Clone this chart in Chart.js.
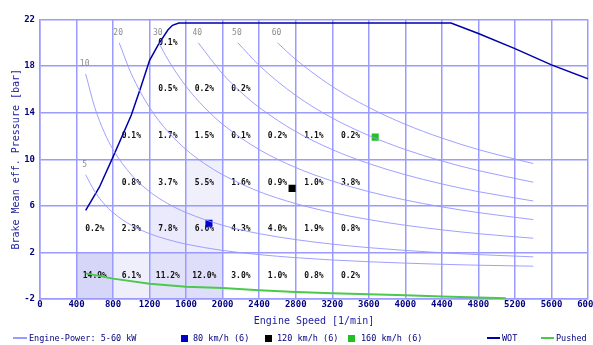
<!DOCTYPE html>
<html>
<head>
<meta charset="utf-8">
<script src="https://cdn.jsdelivr.net/npm/chart.js@4/dist/chart.umd.min.js"></script>
<style>
  html, body { margin: 0; padding: 0; background: #fff; }
  #wrap { position: relative; width: 593px; height: 345px; overflow: hidden; }
  #c { position: absolute; left: 0; top: 0; }
  .lg { position: absolute; top: 333px; font: 8.5px "DejaVu Sans Mono", monospace; color: #000080; white-space: nowrap; line-height: 10px; }
  .sw { position: absolute; }
</style>
</head>
<body>
<div id="wrap">
  <canvas id="c" width="593" height="345"></canvas>
  <div class="sw" style="left:13px;top:337px;width:14px;height:2px;background:#9a9aff"></div>
  <div class="lg" style="left:29px">Engine-Power: 5-60 kW</div>
  <div class="sw" style="left:181px;top:335px;width:7px;height:7px;background:#0000cc"></div>
  <div class="lg" style="left:193px">80 km/h (6)</div>
  <div class="sw" style="left:265px;top:335px;width:7px;height:7px;background:#000"></div>
  <div class="lg" style="left:277px">120 km/h (6)</div>
  <div class="sw" style="left:348px;top:335px;width:7px;height:7px;background:#22c022"></div>
  <div class="lg" style="left:361px">160 km/h (6)</div>
  <div class="sw" style="left:487px;top:337px;width:13px;height:2px;background:#0000a8"></div>
  <div class="lg" style="left:502px">WOT</div>
  <div class="sw" style="left:541px;top:337px;width:13px;height:2px;background:#4cc84c"></div>
  <div class="lg" style="left:556px">Pushed</div>
</div>
<script>
// Residence-time share per operating cell [% of time]
// speed bins: [speedEdges[i], speedEdges[i+1]] rpm; load bins: [loadEdges[j], loadEdges[j+1]] bar
const speedEdges = [400, 800, 1200, 1600, 2000, 2400, 2800, 3200, 3600];
const loadEdges = [-2, 2, 6, 10, 14, 18, 22];
const shareRows = [
  [14.9, 6.1, 11.2, 12.0, 3.0, 1.0, 0.8, 0.2],   // -2 .. 2 bar
  [0.2, 2.3, 7.8, 6.6, 4.3, 4.0, 1.9, 0.8],      //  2 .. 6 bar
  [null, 0.8, 3.7, 5.5, 1.6, 0.9, 1.0, 3.8],     //  6 .. 10 bar
  [null, 0.1, 1.7, 1.5, 0.1, 0.2, 1.1, 0.2],     // 10 .. 14 bar
  [null, null, 0.5, 0.2, 0.2, null, null, null], // 14 .. 18 bar
  [null, null, 0.1, null, null, null, null, null]// 18 .. 22 bar
];

// Constant engine-power lines [rpm, bar]
const powerLevels = [5, 10, 20, 30, 40, 50, 60];
const kw5 = [[500,8.67],[600,7.22],[700,6.19],[800,5.42],[1000,4.33],[1200,3.61],[1400,3.10],[1600,2.71],[2000,2.17],[2400,1.81],[2800,1.55],[3200,1.35],[3600,1.20],[4000,1.08],[4400,0.98],[4800,0.90],[5400,0.82]];
const kw10 = [[500,17.33],[600,14.44],[700,12.38],[800,10.83],[1000,8.67],[1200,7.22],[1400,6.19],[1600,5.42],[2000,4.33],[2400,3.61],[2800,3.10],[3200,2.71],[3600,2.41],[4000,2.17],[4400,1.97],[4800,1.81],[5400,1.62]];
const kw20 = [[867,20.0],[1000,17.33],[1200,14.44],[1400,12.38],[1600,10.83],[1800,9.63],[2000,8.67],[2400,7.22],[2800,6.19],[3200,5.42],[3600,4.82],[4000,4.33],[4400,3.94],[4800,3.61],[5400,3.22]];
const kw30 = [[1300,20.0],[1400,18.57],[1600,16.25],[1800,14.45],[2000,13.0],[2400,10.83],[2800,9.29],[3200,8.13],[3600,7.22],[4000,6.5],[4400,5.91],[4800,5.42],[5400,4.82]];
const kw40 = [[1733,20.0],[2000,17.33],[2200,15.76],[2400,14.45],[2800,12.38],[3200,10.83],[3600,9.63],[4000,8.67],[4400,7.88],[4800,7.22],[5400,6.42]];
const kw50 = [[2167,20.0],[2400,18.06],[2800,15.48],[3200,13.54],[3600,12.04],[4000,10.83],[4400,9.85],[4800,9.03],[5400,8.03]];
const kw60 = [[2600,20.0],[2800,18.57],[3200,16.25],[3600,14.45],[4000,13.0],[4400,11.82],[4800,10.83],[5400,9.63]];
const powerLines = [kw5, kw10, kw20, kw30, kw40, kw50, kw60];

// Full-load (WOT) and motored (Pushed) curves [rpm, bar]
const wot = [[500,5.6],[650,7.6],[800,10.2],[1000,13.8],[1100,16.1],[1200,18.5],[1300,19.9],[1400,21.1],[1450,21.5],[1520,21.7],[4500,21.7],[4800,20.8],[5200,19.5],[5600,18.1],[6000,16.9]];
const pushed = [[500,0.2],[800,-0.25],[1200,-0.7],[1600,-0.95],[2000,-1.05],[2400,-1.25],[2800,-1.4],[3200,-1.5],[3600,-1.6],[4000,-1.68],[4400,-1.78],[4800,-1.87],[5100,-1.93]];

// Steady-speed operating points in 6th gear [rpm, bar]
const op80 = [1850, 4.5];
const op120 = [2760, 7.5];
const op160 = [3670, 11.9];

const xyOf = pts => pts.map(([x, y]) => ({ x, y }));

const mapPlugin = {
  id: 'map',
  beforeDraw(chart) {
    const { ctx, scales: { x, y } } = chart;
    ctx.save();
    shareRows.forEach((row, r) => row.forEach((v, c) => {
      if (v == null || v < 5) return;
      const x0 = x.getPixelForValue(speedEdges[c]);
      const x1 = x.getPixelForValue(speedEdges[c + 1]);
      const y0 = y.getPixelForValue(loadEdges[r]);
      const y1 = y.getPixelForValue(loadEdges[r + 1]);
      ctx.fillStyle = `rgba(100,100,230,${(v * 0.0175).toFixed(3)})`;
      ctx.fillRect(x0, y1, x1 - x0, y0 - y1);
    }));
    ctx.restore();
  },
  beforeDatasetsDraw(chart) {
    const { ctx, scales: { x, y } } = chart;
    ctx.save();
    ctx.textAlign = 'center';
    ctx.textBaseline = 'middle';
    ctx.font = 'bold 8px "DejaVu Sans Mono", monospace';
    ctx.fillStyle = '#111';
    shareRows.forEach((row, r) => row.forEach((v, c) => {
      if (v == null) return;
      const cx = x.getPixelForValue((speedEdges[c] + speedEdges[c + 1]) / 2);
      const cy = y.getPixelForValue((loadEdges[r] + loadEdges[r + 1]) / 2);
      ctx.fillText(v.toFixed(1) + '%', cx, cy);
    }));
    // power values above the start of each constant-power line
    ctx.font = '8px "DejaVu Sans Mono", monospace';
    ctx.fillStyle = '#8c8c8c';
    powerLevels.forEach((p, i) => {
      const pt = chart.getDatasetMeta(i).data[0];
      ctx.fillText(String(p), pt.x - 1, pt.y - 10);
    });
    ctx.restore();
  }
};

const tickFont = { family: 'DejaVu Sans Mono', size: 9, weight: 'bold' };
const titleFont = { family: 'DejaVu Sans Mono', size: 10 };
const gridBlue = '#9a9aff';

const datasets = powerLines.map((pts, i) => ({
  label: powerLevels[i] + ' kW',
  data: xyOf(pts),
  showLine: true,
  borderColor: 'rgba(150,150,255,0.9)',
  borderWidth: 1,
  pointRadius: 0,
  cubicInterpolationMode: 'monotone'
}));
datasets.push(
  { label: 'WOT', data: xyOf(wot), showLine: true, borderColor: '#0000a8', borderWidth: 1.5, pointRadius: 0, tension: 0 },
  { label: 'Pushed', data: xyOf(pushed), showLine: true, borderColor: '#4cc84c', borderWidth: 2, pointRadius: 0, tension: 0 },
  { label: '80 km/h (6)', data: xyOf([op80]), pointStyle: 'rect', pointRadius: 5, backgroundColor: '#0000cc', borderWidth: 0 },
  { label: '120 km/h (6)', data: xyOf([op120]), pointStyle: 'rect', pointRadius: 5, backgroundColor: '#000000', borderWidth: 0 },
  { label: '160 km/h (6)', data: xyOf([op160]), pointStyle: 'rect', pointRadius: 5, backgroundColor: '#22c022', borderWidth: 0 }
);

new Chart(document.getElementById('c'), {
  type: 'scatter',
  data: { datasets },
  plugins: [mapPlugin],
  options: {
    responsive: false,
    animation: false,
    events: [],
    layout: { padding: { left: 6, right: 2, top: 19.5, bottom: 14 } },
    plugins: { legend: { display: false }, tooltip: { enabled: false } },
    scales: {
      x: {
        type: 'linear', min: 0, max: 6000,
        ticks: { stepSize: 400, autoSkip: false, maxRotation: 0, padding: 0, color: '#000080', font: tickFont, callback: v => String(v) },
        grid: { color: gridBlue, lineWidth: 1.5, drawTicks: false },
        border: { color: gridBlue, width: 1.5 },
        title: { display: true, text: 'Engine Speed [1/min]', color: '#1c1ca0', font: titleFont, padding: { top: 4, bottom: 4 } },
        afterFit: s => { s.height = 32; s.paddingLeft = 0; s.paddingRight = 0; }
      },
      y: {
        type: 'linear', min: -2, max: 22,
        ticks: { stepSize: 4, padding: 5, color: '#000080', font: tickFont, callback: v => String(v) },
        grid: { color: gridBlue, lineWidth: 1.5, drawTicks: false },
        border: { color: gridBlue, width: 1.5 },
        title: { display: true, text: 'Brake Mean eff. Pressure [bar]', color: '#1c1ca0', font: titleFont, padding: { top: 4, bottom: 4 } },
        afterFit: s => { s.width = 34; }
      }
    }
  }
});
</script>
</body>
</html>
